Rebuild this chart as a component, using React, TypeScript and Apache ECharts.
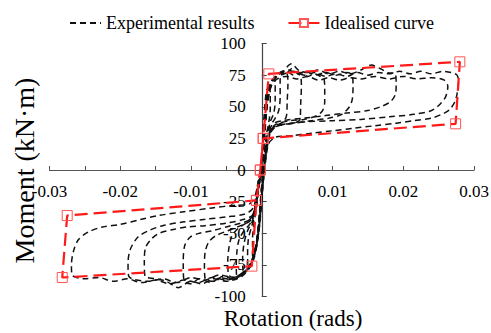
import React, { useEffect, useRef } from "react";
import * as echarts from "echarts";

const seriesNames = ["Experimental results", "Idealised curve"];
const xTicks = { min: -0.03, max: 0.03, interval: 0.01 };
const yTicks = { min: -100, max: 100, interval: 25 };

const loop0 = [[0,0],[0.0003,28],[0.0007,54],[0.0011,66],[0.0016,72],[0.0019,70],[0.0019,55],[0.0017,45],[0.0012,38],[0.0008,28],[0.0004,10],[0,-14],[-0.0004,-42],[-0.0008,-60],[-0.0013,-72],[-0.0019,-78],[-0.002,-68],[-0.0019,-55],[-0.0015,-46],[-0.001,-36],[-0.0005,-16],[0,0]];
const loop1 = [[0,0],[0.0002,22],[0.0005,48],[0.0009,63],[0.0015,71],[0.0022,75],[0.0029,78],[0.0036,76],[0.0037,68],[0.0036,55],[0.0035,43],[0.003,38],[0.002,35],[0.0012,31],[0.0007,22],[0.0003,5],[-0.0001,-18],[-0.0005,-45],[-0.0009,-62],[-0.0014,-72],[-0.0021,-78],[-0.0029,-82],[-0.0035,-84],[-0.0036,-76],[-0.0035,-64],[-0.0032,-55],[-0.0025,-48],[-0.0016,-42],[-0.001,-33],[-0.0005,-15],[0,0]];
const loop2 = [[0,0],[0.0003,24],[0.0006,50],[0.001,64],[0.0017,72],[0.0026,77],[0.0034,76],[0.0042,80],[0.0049,77],[0.0055,74],[0.0056,66],[0.0055,52],[0.0054,40],[0.0045,37],[0.003,36],[0.0016,33],[0.0009,26],[0.0004,8],[0,-14],[-0.0004,-42],[-0.0008,-60],[-0.0013,-71],[-0.002,-78],[-0.0028,-83],[-0.0037,-85],[-0.0047,-83],[-0.0048,-72],[-0.0046,-60],[-0.0042,-52],[-0.0033,-46],[-0.002,-41],[-0.0012,-35],[-0.0006,-18],[0,0]];
const loop3 = [[0,0],[0.0003,26],[0.0006,52],[0.001,65],[0.0016,72],[0.0025,76],[0.0035,78],[0.0045,75],[0.0055,77],[0.0065,74],[0.0075,76],[0.0083,74],[0.0088,72],[0.0089,64],[0.0089,54],[0.0086,47],[0.0078,43],[0.006,40],[0.004,39],[0.002,36],[0.0011,30],[0.0005,12],[0.0001,-12],[-0.0003,-40],[-0.0007,-58],[-0.0012,-70],[-0.0019,-78],[-0.0028,-83],[-0.004,-86],[-0.0055,-84],[-0.0068,-88],[-0.008,-86],[-0.0081,-76],[-0.008,-65],[-0.0075,-57],[-0.0065,-52],[-0.0048,-48],[-0.003,-44],[-0.0016,-40],[-0.0009,-30],[-0.0004,-12],[0,0]];
const loop4 = [[0,0],[0.0003,25],[0.0007,52],[0.0011,66],[0.0018,73],[0.0028,77],[0.0038,79],[0.005,76],[0.0062,78],[0.0075,75],[0.009,77],[0.0105,75],[0.012,77],[0.0128,75],[0.0129,66],[0.0128,56],[0.0124,50],[0.0113,44],[0.0095,41],[0.007,39],[0.0045,37],[0.0022,35],[0.0012,29],[0.0006,12],[0.0002,-10],[-0.0002,-38],[-0.0006,-57],[-0.0011,-70],[-0.0018,-78],[-0.0028,-84],[-0.0042,-87],[-0.0058,-85],[-0.0072,-89],[-0.0088,-86],[-0.0101,-90],[-0.011,-87],[-0.0111,-74],[-0.0109,-60],[-0.0101,-53],[-0.0088,-50],[-0.007,-48],[-0.005,-45],[-0.003,-42],[-0.0016,-39],[-0.0009,-28],[-0.0004,-10],[0,0]];
const loop5 = [[0,0],[0.0003,24],[0.0007,50],[0.0012,66],[0.002,74],[0.003,78],[0.0042,84],[0.0052,79],[0.0065,77],[0.008,79],[0.0095,76],[0.011,78],[0.0125,76],[0.014,79],[0.0155,83],[0.0168,80],[0.0178,77],[0.0189,76],[0.019,68],[0.0189,60],[0.0182,54],[0.0168,50],[0.015,47],[0.012,45],[0.009,43],[0.006,41],[0.003,39],[0.0015,36],[0.0009,26],[0.0004,6],[0,-18],[-0.0004,-45],[-0.0008,-62],[-0.0014,-73],[-0.0022,-80],[-0.0034,-85],[-0.005,-88],[-0.0068,-86],[-0.0085,-90],[-0.01,-88],[-0.0118,-93],[-0.0135,-88],[-0.015,-86],[-0.0165,-84],[-0.0166,-72],[-0.0164,-61],[-0.0155,-54],[-0.0145,-50],[-0.0125,-47],[-0.0105,-45],[-0.008,-44],[-0.005,-42],[-0.0025,-39],[-0.0012,-35],[-0.0006,-18],[0,0]];
const loop6 = [[0,0],[0.0003,22],[0.0007,48],[0.0012,64],[0.002,73],[0.0032,76],[0.0045,78],[0.006,75],[0.0075,77],[0.009,74],[0.0105,76],[0.012,74],[0.0135,77],[0.015,75],[0.0165,77],[0.018,76],[0.0195,78],[0.021,76],[0.0225,78],[0.024,76],[0.0255,78],[0.0268,77],[0.0276,75],[0.0278,70],[0.0276,60],[0.0273,54],[0.0266,48],[0.0258,45],[0.024,41],[0.0215,39],[0.019,37],[0.016,35],[0.013,33],[0.01,31],[0.007,29],[0.004,27],[0.002,26],[0.001,21],[0.0005,5],[0.0001,-16],[-0.0003,-42],[-0.0008,-60],[-0.0014,-72],[-0.0022,-79],[-0.0035,-84],[-0.005,-87],[-0.007,-85],[-0.009,-89],[-0.011,-87],[-0.013,-90],[-0.015,-87],[-0.017,-89],[-0.019,-86],[-0.021,-88],[-0.023,-85],[-0.025,-86],[-0.0268,-83],[-0.0269,-75],[-0.0266,-64],[-0.0259,-55],[-0.0245,-49],[-0.0225,-45],[-0.02,-43],[-0.017,-39],[-0.0146,-36],[-0.011,-33],[-0.007,-30],[-0.004,-28],[-0.0018,-27],[-0.0009,-20],[-0.0004,-6],[0,0]];
const loop7 = [[0,0],[0.0004,26],[0.0008,52],[0.0013,66],[0.0022,72],[0.0035,74],[0.005,72],[0.0065,74],[0.008,71],[0.0095,73],[0.011,71],[0.0125,73],[0.014,72],[0.016,74],[0.018,72],[0.02,74],[0.022,72],[0.024,73],[0.0258,71],[0.0263,66],[0.026,58],[0.0252,52],[0.024,47],[0.0215,44],[0.018,42],[0.014,40],[0.01,39],[0.006,38],[0.003,36],[0.0015,33],[0.0009,22],[0.0004,2],[0,-22],[-0.0004,-48],[-0.0009,-64],[-0.0016,-75],[-0.0026,-81],[-0.004,-85],[-0.006,-83],[-0.008,-87],[-0.01,-85],[-0.012,-89],[-0.014,-86],[-0.016,-88],[-0.0188,-84],[-0.0189,-74],[-0.0186,-63],[-0.0175,-53],[-0.016,-48],[-0.014,-44],[-0.011,-41],[-0.008,-39],[-0.005,-37],[-0.0025,-35],[-0.0012,-30],[-0.0006,-12],[0,0]];
const loop8 = [[0,0],[0.0002,30],[0.0005,55],[0.0008,64],[0.0012,62],[0.0012,48],[0.001,38],[0.0006,26],[0.0003,8],[-0.0001,-20],[-0.0005,-48],[-0.0009,-63],[-0.0013,-68],[-0.0013,-55],[-0.0011,-42],[-0.0007,-28],[-0.0003,-10],[0,0]];
const loop9 = [[0,0],[0.0004,32],[0.0008,56],[0.0013,68],[0.0021,74],[0.0026,72],[0.0026,58],[0.0024,47],[0.0018,40],[0.0011,34],[0.0006,20],[0.0002,-4],[-0.0002,-30],[-0.0006,-52],[-0.0011,-66],[-0.0018,-76],[-0.0026,-80],[-0.0027,-70],[-0.0025,-58],[-0.002,-48],[-0.0013,-40],[-0.0007,-24],[-0.0003,-8],[0,0]];

const experimentalLoops = [loop0, loop8, loop9, loop1, loop2, loop3, loop4, loop5, loop6, loop7];

const idealisedCurve = [[-0.0002,0],[0.0002,25],[0.001,76],[0.028,85.5],[0.0274,36.5],[0.0002,25],[-0.0002,0],[-0.00075,-24],[-0.0014,-76],[-0.0282,-85],[-0.0275,-36],[-0.00075,-24]];

const FONT = "Liberation Serif, Times New Roman, serif";

const GRID = { left: 49.5, right: 17, top: 43.5, bottom: 36.5 };
const W = 491;
const H = 333;

export default function App() {
  const ref = useRef<HTMLDivElement>(null);
  useEffect(() => {
    if (!ref.current) return;
    const chart = echarts.init(ref.current, null, { renderer: "svg" });
    const gw = W - GRID.left - GRID.right;
    const gh = H - GRID.top - GRID.bottom;
    const xOffset = -gh * (0 - yTicks.min) / (yTicks.max - yTicks.min);
    const yOffset = -gw * (0 - xTicks.min) / (xTicks.max - xTicks.min);
    const expSeries = experimentalLoops.map((d) => ({
      name: seriesNames[0],
      type: "line",
      data: d,
      symbol: "none",
      showSymbol: false,
      smooth: 0.3,
      lineStyle: { color: "#111", width: 1.5, type: [6, 4] },
      itemStyle: { color: "#111" },
      z: 2,
    }));
    chart.setOption({
      animation: false,
      textStyle: { fontFamily: FONT },
      legend: {
        data: [
          { name: seriesNames[0], itemStyle: { opacity: 0 } },
          { name: seriesNames[1] },
        ],
        left: 64,
        top: 9,
        itemWidth: 31,
        itemHeight: 10,
        itemGap: 33,
        textStyle: { fontFamily: FONT, fontSize: 18, color: "#000" },
      },
      grid: { ...GRID, outerBoundsMode: "none" },
      xAxis: {
        type: "value",
        min: xTicks.min,
        max: xTicks.max,
        interval: xTicks.interval,
        position: "bottom",
        offset: xOffset,
        splitLine: { show: false },
        axisLine: { onZero: false, lineStyle: { color: "#555", width: 1.2 } },
        axisTick: { show: true, inside: true, length: 4, lineStyle: { color: "#555" } },
        minorTick: { show: true, splitNumber: 2, length: 4, lineStyle: { color: "#555" } },
        axisLabel: {
          margin: 13,
          fontSize: 17,
          color: "#000",
          fontFamily: FONT,
          formatter: (v: number) => (Math.abs(v) < 1e-9 ? "" : String(Number(v.toFixed(2)))),
        },
      },
      yAxis: {
        type: "value",
        min: yTicks.min,
        max: yTicks.max,
        interval: yTicks.interval,
        position: "left",
        offset: yOffset,
        splitLine: { show: false },
        axisLine: { onZero: false, lineStyle: { color: "#444", width: 1.2 } },
        axisTick: { show: true, inside: true, length: 5, lineStyle: { color: "#444" } },
        axisLabel: { margin: 16, fontSize: 17, color: "#000", fontFamily: FONT },
      },
      graphic: [
        {
          type: "text",
          x: 24,
          y: 170.5,
          rotation: Math.PI / 2,
          style: {
            text: "Moment (kN·m)",
            font: "28px Liberation Serif",
            fill: "#000",
            textAlign: "center",
            textVerticalAlign: "middle",
          },
        },
        {
          type: "text",
          x: 293,
          y: 318,
          style: {
            text: "Rotation (rads)",
            font: "23px Liberation Serif",
            fill: "#000",
            textAlign: "center",
            textVerticalAlign: "middle",
          },
        },
      ],
      series: [
        ...expSeries,
        {
          name: seriesNames[1],
          type: "line",
          data: idealisedCurve,
          symbol: "rect",
          symbolSize: 10,
          showAllSymbol: true,
          lineStyle: { color: "#ff1a1a", width: 2.2, type: [13, 6] },
          itemStyle: { color: "rgba(255,255,255,0)", borderColor: "#ff5555", borderWidth: 1 },
          z: 5,
        },
      ],
    });
    return () => chart.dispose();
  }, []);
  return <div ref={ref} style={{ width: W, height: H, position: "absolute", left: 0, top: 0 }} />;
}
